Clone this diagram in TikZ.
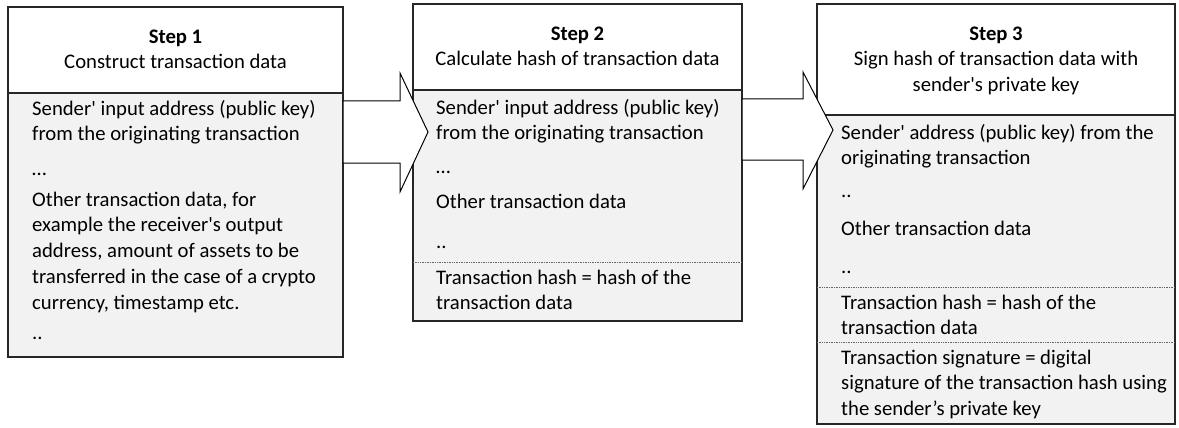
\documentclass[tikz,border=0pt]{standalone}
\usepackage{fontspec}
\setmainfont{Carlito}
\usetikzlibrary{calc}
\newcommand\bodysize{\fontsize{20.7}{25.7}\selectfont}
\newcommand\sq{\textquotesingle}

\begin{document}
\begin{tikzpicture}[x=1pt,y=-1pt,
  frame/.style={draw=black!85, line width=1.4pt, inner sep=0pt, outer sep=0pt, anchor=north west},
  headbox/.style={frame, fill=white},
  bodybox/.style={frame, fill=black!5},
  para/.style={anchor=north west, inner sep=0pt, align=left, font=\bodysize, text=black, yshift=17.99pt},
  title/.style={anchor=north, inner sep=0pt, align=center, font=\bodysize, text=black, yshift=17.99pt},
  sep/.style={draw=black!60, line width=0.7pt, dash pattern=on 0.8pt off 0.9pt},
  blockarrow/.style={draw=black, line width=1pt, fill=white, line join=miter}
]
\useasboundingbox (0,0) rectangle (1179,428);

% box frames: white title part above a grey content part
\node[headbox, minimum width=335pt, minimum height=86pt]  (h1) at (8,7) {};
\node[bodybox, minimum width=335pt, minimum height=264pt] (b1) at (h1.south west) {};
\node[headbox, minimum width=329pt, minimum height=86pt]  (h2) at (413,4) {};
\node[bodybox, minimum width=329pt, minimum height=231pt] (b2) at (h2.south west) {};
\node[headbox, minimum width=358pt, minimum height=111pt] (h3) at (817,4) {};
\node[bodybox, minimum width=358pt, minimum height=309pt] (b3) at (h3.south west) {};

% dotted separators inside the content parts
\draw[sep] (b2.west |- 0,262) -- (b2.east |- 0,262);
\draw[sep] (b3.west |- 0,287) -- (b3.east |- 0,287);
\draw[sep] (b3.west |- 0,342) -- (b3.east |- 0,342);

% step 1
\node[title] (s1) at (175.5,43) {\strut\textbf{Step 1}\\Construct transaction data};
\node[para] (p1a) at (32,115) {\strut Sender\sq{} input address (public key)\\from the originating transaction};
\node[para] (p1b) at (32,175) {\strut …};
\node[para] (p1c) at (32,206) {\strut Other transaction data, for\\example the receiver\sq{}s output\\address, amount of assets to be\\transferred in the case of a crypto\\currency, timestamp etc.};
\node[para] (p1d) at (32,339) {\strut ..};

% step 2
\node[title] (s2) at (577.5,40) {\strut\textbf{Step 2}\\Calculate hash of transaction data};
\node[para] (p2a) at (436,114) {\strut Sender\sq{} input address (public key)\\from the originating transaction};
\node[para] (p2b) at (436,173) {\strut …};
\node[para] (p2c) at (436,208) {\strut Other transaction data};
\node[para] (p2d) at (436,248) {\strut ..};
\node[para] (p2e) at (436,284) {\strut Transaction hash = hash of the\\transaction data};

% step 3
\node[title] (s3) at (996,40) {\strut\textbf{Step 3}\\Sign hash of transaction data with\\sender\sq{}s private key};
\node[para] (p3a) at (841,139) {\strut Sender\sq{} address (public key) from the\\originating transaction};
\node[para] (p3b) at (841,197) {\strut ..};
\node[para] (p3c) at (841,235) {\strut Other transaction data};
\node[para] (p3d) at (841,273) {\strut ..};
\node[para] (p3e) at (841,309) {\strut Transaction hash = hash of the\\transaction data};
\node[para] (p3f) at (841,364) {\strut Transaction signature = digital\\signature of the transaction hash using\\the sender’s private key};

% block arrows between the steps
\coordinate (a1s) at (b1.east |- 0,132);
\coordinate (a1t) at (428,132);
\draw[blockarrow] ($(a1s)+(0,-31)$) -- ($(a1s)+(57,-31)$) -- ($(a1s)+(57,-59)$) -- (a1t)
  -- ($(a1s)+(57,60)$) -- ($(a1s)+(57,31)$) -- ($(a1s)+(0,31)$) -- cycle;

\coordinate (a2s) at (b2.east |- 0,130);
\coordinate (a2t) at (833,130);
\draw[blockarrow] ($(a2s)+(0,-31)$) -- ($(a2s)+(61,-31)$) -- ($(a2s)+(61,-58)$) -- (a2t)
  -- ($(a2s)+(61,59)$) -- ($(a2s)+(61,30)$) -- ($(a2s)+(0,30)$) -- cycle;
\end{tikzpicture}
\end{document}
